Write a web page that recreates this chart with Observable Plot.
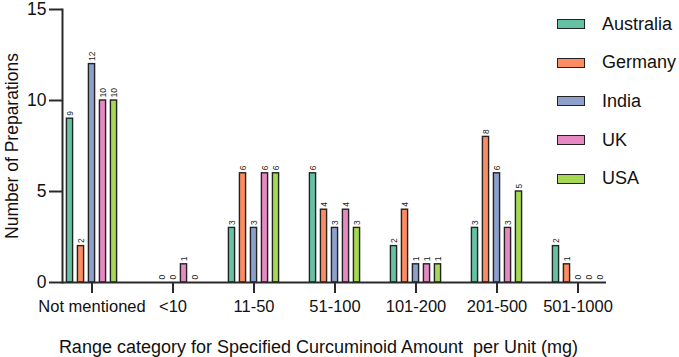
<!DOCTYPE html>
<html>
<head>
<meta charset="utf-8">
<script src="https://cdn.jsdelivr.net/npm/d3@7"></script>
<script src="https://cdn.jsdelivr.net/npm/@observablehq/plot@0.6"></script>
<style>
  body { margin: 0; background: #fff; font-family: "Liberation Sans", Arial, sans-serif; }
  #chart { position: relative; width: 679px; height: 357px; }
  #legend { position: absolute; left: 557px; top: 5px; }
  #legend .row { display: flex; align-items: center; height: 38.6px; }
  #legend .sw { width: 26px; height: 8px; border: 1.5px solid #222; margin-right: 17px; box-sizing: content-box; }
  #legend span { font-size: 18px; color: #111; }
</style>
</head>
<body>
<div id="chart"></div>
<script>
// Dose range categories (x axis) and countries (bar groups)
const categories = ["Not mentioned", "<10", "11-50", "51-100", "101-200", "201-500", "501-1000"];
const countries = ["Australia", "Germany", "India", "UK", "USA"];
const colors = ["#66c2a5", "#fc8d62", "#8da0cb", "#e78ac3", "#a6d854"];

// Number of preparations per category, one array per country (null = not reported)
const australia = [9, null, 3, 6, 2, 3, 2];
const germany   = [2, 0, 6, 4, 4, 8, 1];
const india     = [12, 0, 3, 3, 1, 6, 0];
const uk        = [10, 1, 6, 4, 1, 3, 0];
const usa       = [10, 0, 6, 3, 1, 5, 0];

const yTicks = [0, 5, 10, 15];
const xLabel = "Range category for Specified Curcuminoid Amount  per Unit (mg)";
const yLabel = "Number of Preparations";

const series = [australia, germany, india, uk, usa];
const rows = [];
categories.forEach((c, i) => countries.forEach((k, j) => {
  const v = series[j][i];
  if (v != null) rows.push({category: c, country: k, value: v});
}));

// Layout of the grouped bars inside each category band
const width = 679, height = 357;
const marginLeft = 62, marginRight = 73;
const bandPadding = 0.30;
const bandStep = (width - marginLeft - marginRight) / (categories.length - bandPadding);
const bandWidth = bandStep * (1 - bandPadding);
const barStep = 11, barWidth = 6;

const font = "Liberation Sans, Arial, sans-serif";
const ink = "#2a2a2a";

// One bar mark and one value-label mark per country, shifted within the band
const groupMarks = countries.flatMap((k, j) => {
  const data = rows.filter(d => d.country === k);
  const off = (j - (countries.length - 1) / 2) * barStep;
  return [
    Plot.barY(data, {x: "category", y: "value", fill: "country", stroke: "#222", strokeWidth: 1.4,
      insetLeft: bandWidth / 2 + off - barWidth / 2, insetRight: bandWidth / 2 - off - barWidth / 2}),
    Plot.text(data, {x: "category", y: "value", text: d => String(d.value), dx: off, dy: -3,
      rotate: -90, textAnchor: "start", fontSize: 8.5, fill: "#222"})
  ];
});

const plot = Plot.plot({
  width,
  height,
  marginLeft,
  marginRight,
  marginTop: 9,
  marginBottom: 75,
  style: {fontFamily: font, color: "#111", background: "transparent"},
  x: {domain: categories, paddingInner: bandPadding, paddingOuter: 0},
  y: {domain: [0, 15]},
  color: {domain: countries, range: colors},
  marks: [
    ...groupMarks,
    // axis lines
    Plot.ruleY([0], {stroke: ink, strokeWidth: 2}),
    Plot.frame({anchor: "left", stroke: ink, strokeWidth: 2}),
    Plot.axisY({ticks: yTicks, tickSize: 13, tickPadding: 3, fontSize: 17.5,
      stroke: ink, strokeWidth: 2, label: yLabel, labelAnchor: "center", labelArrow: "none",
      labelOffset: 57}),
    Plot.axisX({tickSize: 11, tickPadding: 7, fontSize: 16.5, stroke: ink, strokeWidth: 2, label: null}),
    // x axis title
    Plot.text([xLabel], {frameAnchor: "bottom", dx: -16, dy: 70, fontSize: 18, fill: "#111"})
  ]
});

const chart = document.getElementById("chart");
chart.appendChild(plot);

// Legend: one swatch per country
const legend = document.createElement("div");
legend.id = "legend";
countries.forEach((k, j) => {
  const row = document.createElement("div");
  row.className = "row";
  const sw = document.createElement("div");
  sw.className = "sw";
  sw.style.background = colors[j];
  const label = document.createElement("span");
  label.textContent = k;
  row.appendChild(sw);
  row.appendChild(label);
  legend.appendChild(row);
});
chart.appendChild(legend);
</script>
</body>
</html>
